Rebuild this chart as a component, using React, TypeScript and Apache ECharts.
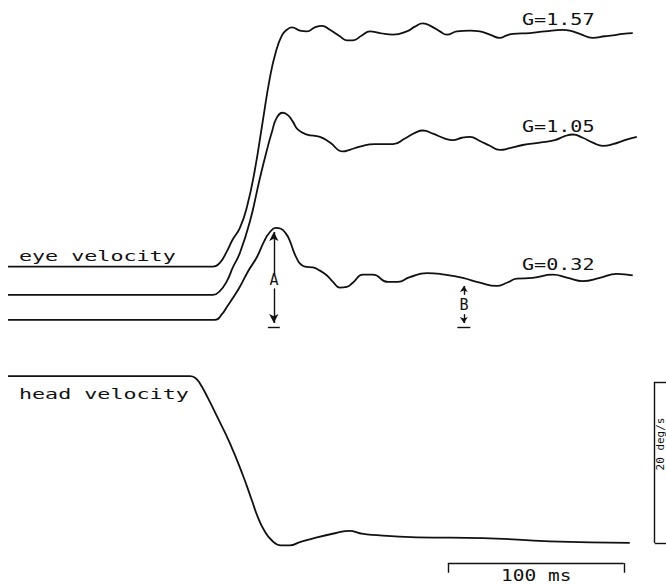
import React, { useEffect, useRef } from "react";
import * as echarts from "echarts";

// time (ms) vs velocity (deg/s), each trace relative to its own baseline
const eyeG157: [number, number][] = [
  [0, 0], [116.5, 0], [120.5, 0.5], [124.4, 1.9], [127.8, 3.4], [131.8, 4.8], [135.8, 7.4], [140.3, 12.0],
  [144.9, 18.2], [148.9, 23.5], [152.3, 26.7], [155.7, 28.7], [158.5, 29.4], [161.4, 29.7], [165.9, 29.3],
  [169.9, 29.2], [174.4, 29.7], [178.4, 29.9], [183.0, 29.4], [188.6, 28.6], [192.6, 28.1], [196.0, 28.1],
  [201.1, 28.7], [205.7, 29.2], [211.4, 29.0], [218.8, 28.8], [226.7, 29.2], [231.3, 29.8], [235.8, 30.2],
  [240.9, 29.8], [245.5, 29.2], [249.4, 28.8], [255.1, 29.2], [262.5, 29.3], [268.2, 29.2], [273.9, 28.8],
  [279.5, 28.4], [283.5, 28.7], [286.9, 28.9], [296.6, 29.0], [305.1, 29.2], [315.3, 29.4], [319.3, 29.3],
  [325.0, 28.9], [332.4, 28.4], [339.2, 28.6], [343.8, 28.7], [349.4, 28.9], [355.1, 29.0],
];
const eyeG105: [number, number][] = [
  [0, 0], [116.5, 0], [120.5, 0.5], [124.4, 1.7], [127.8, 3.4], [131.8, 5.2], [137.5, 9.1], [143.2, 14.5],
  [147.2, 18.0], [150.0, 20.2], [152.8, 22.0], [156.3, 22.6], [159.1, 22.3], [161.9, 21.5], [164.8, 20.5],
  [169.9, 19.9], [177.3, 19.6], [183.0, 18.9], [190.3, 17.8], [194.3, 18.0], [200.0, 18.4], [208.5, 18.7],
  [218.8, 18.7], [225.6, 19.4], [231.3, 20.1], [235.8, 20.4], [241.5, 20.0], [248.3, 19.4], [252.8, 19.2],
  [258.0, 19.5], [262.5, 19.6], [268.2, 19.1], [273.9, 18.5], [279.5, 18.0], [285.2, 18.2], [292.6, 18.6],
  [302.3, 18.9], [310.8, 19.2], [316.5, 19.7], [321.0, 19.9], [326.7, 19.5], [332.4, 18.9], [338.1, 18.5],
  [343.8, 18.7], [350.6, 19.2], [357.4, 19.6],
];
const eyeG032: [number, number][] = [
  [0, 0], [117.6, 0], [121.6, 0.7], [124.4, 1.6], [127.8, 2.7], [131.8, 4.1], [136.4, 6.0], [141.5, 7.8],
  [145.5, 9.7], [148.9, 10.9], [152.3, 11.4], [155.1, 11.3], [158.0, 10.7], [160.2, 9.8], [162.5, 8.4],
  [164.2, 7.6], [165.9, 7.0], [168.8, 6.6], [173.3, 6.5], [177.3, 6.1], [181.3, 5.5], [184.7, 4.7],
  [188.6, 4.0], [192.6, 4.1], [196.0, 4.6], [201.7, 5.6], [207.4, 5.6], [215.9, 4.7], [221.6, 4.7],
  [228.4, 5.3], [238.1, 5.8], [248.3, 5.6], [258.5, 5.2], [268.2, 4.6], [277.8, 4.2], [283.5, 4.6],
  [289.2, 5.1], [298.3, 5.2], [309.7, 5.6], [318.2, 5.2], [326.7, 4.8], [336.4, 5.2], [346.0, 5.7], [355.1, 5.5],
];
const headVel: [number, number][] = [
  [0, 0], [103.4, 0], [106.3, -0.2], [109.1, -0.9], [113.6, -2.7], [118.8, -5.0], [126.1, -8.3],
  [133.5, -12.3], [138.6, -15.4], [142.0, -17.5], [145.5, -19.1], [150.0, -20.4], [155.1, -21.0],
  [160.2, -21.0], [165.9, -20.6], [175.6, -20.0], [185.8, -19.5], [194.3, -19.2], [200.0, -19.5],
  [206.8, -19.7], [232.4, -20.0], [269.9, -20.1], [308.0, -20.5], [353.4, -20.7],
];

const gainLabels = ["G=1.57", "G=1.05", "G=0.32"];
// vertical display offsets of each trace baseline (deg/s units of the y axis)
const traceOffsets = [39.4, 35.9, 32.8, 25.8];

// annotations: A (peak) and B (steady state) markers at t (ms)
const markA = { t: 151.1, top: 43.7, labelTop: 38.5, labelBottom: 36.7, bottom: 32.4, bar: 31.9, barHalf: 3.4 };
const markB = { t: 259.1, top: 37.0, labelTop: 35.9, labelBottom: 33.5, bottom: 32.4, bar: 31.9, barHalf: 3.7 };
// scale bars: 100 ms and 20 deg/s
const timeBar = { from: 250, to: 350, y: 2.6, tickY: 1.4 };
const velBar = { t: 367.6, from: 5.1, to: 25.1, tickEnd: 374 };

const INK = "#111";
const MONO = "DejaVu Sans Mono";

export default function App() {
  const ref = useRef<HTMLDivElement>(null);
  useEffect(() => {
    document.body.style.margin = "0";
    if (!ref.current) return;
    const chart = echarts.init(ref.current, undefined, { renderer: "svg" });
    const shift = (arr: [number, number][], off: number) => arr.map(([t, v]) => [t, +(v + off).toFixed(2)]);
    const lineBase = {
      type: "line" as const,
      showSymbol: false,
      symbol: "none",
      smooth: 0.5,
      silent: true,
      lineStyle: { color: INK, width: 1.8 },
      emphasis: { disabled: true },
    };
    const mlBase = {
      silent: true,
      symbol: ["none", "none"],
      symbolSize: [7, 9],
      label: { show: false },
      emphasis: { disabled: true },
      lineStyle: { color: INK, width: 1.4, type: "solid" as const },
    };
    const seg = (a: number[], b: number[], endArrow = false, size?: number[]) => [
      { coord: a },
      endArrow ? { coord: b, symbol: "arrow", symbolSize: size || [7, 9] } : { coord: b },
    ];
    const txt = (text: string, x: number, y: number, fontSize: number, scaleX: number, align = "left", rotation = 0) => ({
      type: "text",
      x,
      y,
      scaleX,
      rotation,
      silent: true,
      style: {
        text,
        fontFamily: MONO,
        fontSize,
        fill: INK,
        align,
        verticalAlign: "middle",
        textAlign: align,
        textVerticalAlign: "middle",
      },
    });
    chart.setOption({
      animation: false,
      grid: { left: 8, right: 0, top: 0, bottom: 0, containLabel: false },
      xAxis: { type: "value", min: 0, max: 374, show: false },
      yAxis: { type: "value", min: 0, max: 72.5, show: false },
      series: [
        { ...lineBase, name: gainLabels[0], data: shift(eyeG157, traceOffsets[0]) },
        { ...lineBase, name: gainLabels[1], data: shift(eyeG105, traceOffsets[1]) },
        {
          ...lineBase,
          name: gainLabels[2],
          data: shift(eyeG032, traceOffsets[2]),
          markLine: {
            ...mlBase,
            data: [
              seg([markA.t, markA.labelTop], [markA.t, markA.top], true),
              seg([markA.t, markA.labelBottom], [markA.t, markA.bottom], true),
              seg([markA.t - markA.barHalf, markA.bar], [markA.t + markA.barHalf, markA.bar]),
              seg([markB.t, markB.labelTop], [markB.t, markB.top], true, [6, 6]),
              seg([markB.t, markB.labelBottom], [markB.t, markB.bottom], true, [6, 6]),
              seg([markB.t - markB.barHalf, markB.bar], [markB.t + markB.barHalf, markB.bar]),
            ],
          },
        },
        {
          ...lineBase,
          name: "head velocity",
          data: shift(headVel, traceOffsets[3]),
          markLine: {
            ...mlBase,
            data: [
              seg([timeBar.from, timeBar.y], [timeBar.to, timeBar.y]),
              seg([timeBar.from, timeBar.y], [timeBar.from, timeBar.tickY]),
              seg([timeBar.to, timeBar.y], [timeBar.to, timeBar.tickY]),
              seg([velBar.t, velBar.from], [velBar.t, velBar.to]),
              seg([velBar.t, velBar.to], [velBar.tickEnd, velBar.to]),
              seg([velBar.t, velBar.from], [velBar.tickEnd, velBar.from]),
            ],
          },
        },
      ],
      graphic: [
        txt("eye velocity", 19, 256, 14, 1.55),
        txt("head velocity", 19, 394, 14, 1.55),
        txt(gainLabels[0], 522, 20, 15, 1.34),
        txt(gainLabels[1], 522, 127, 15, 1.34),
        txt(gainLabels[2], 522, 265, 15, 1.34),
        txt("100 ms", 501, 576, 15, 1.3),
        txt("A", 274, 280, 15, 1.0, "center"),
        txt("B", 464, 305, 15, 1.0, "center"),
        txt("20 deg/s", 660.5, 444, 10, 1.1, "center", Math.PI / 2),
      ],
    });
    return () => chart.dispose();
  }, []);
  return <div ref={ref} style={{ width: 666, height: 584 }} />;
}
